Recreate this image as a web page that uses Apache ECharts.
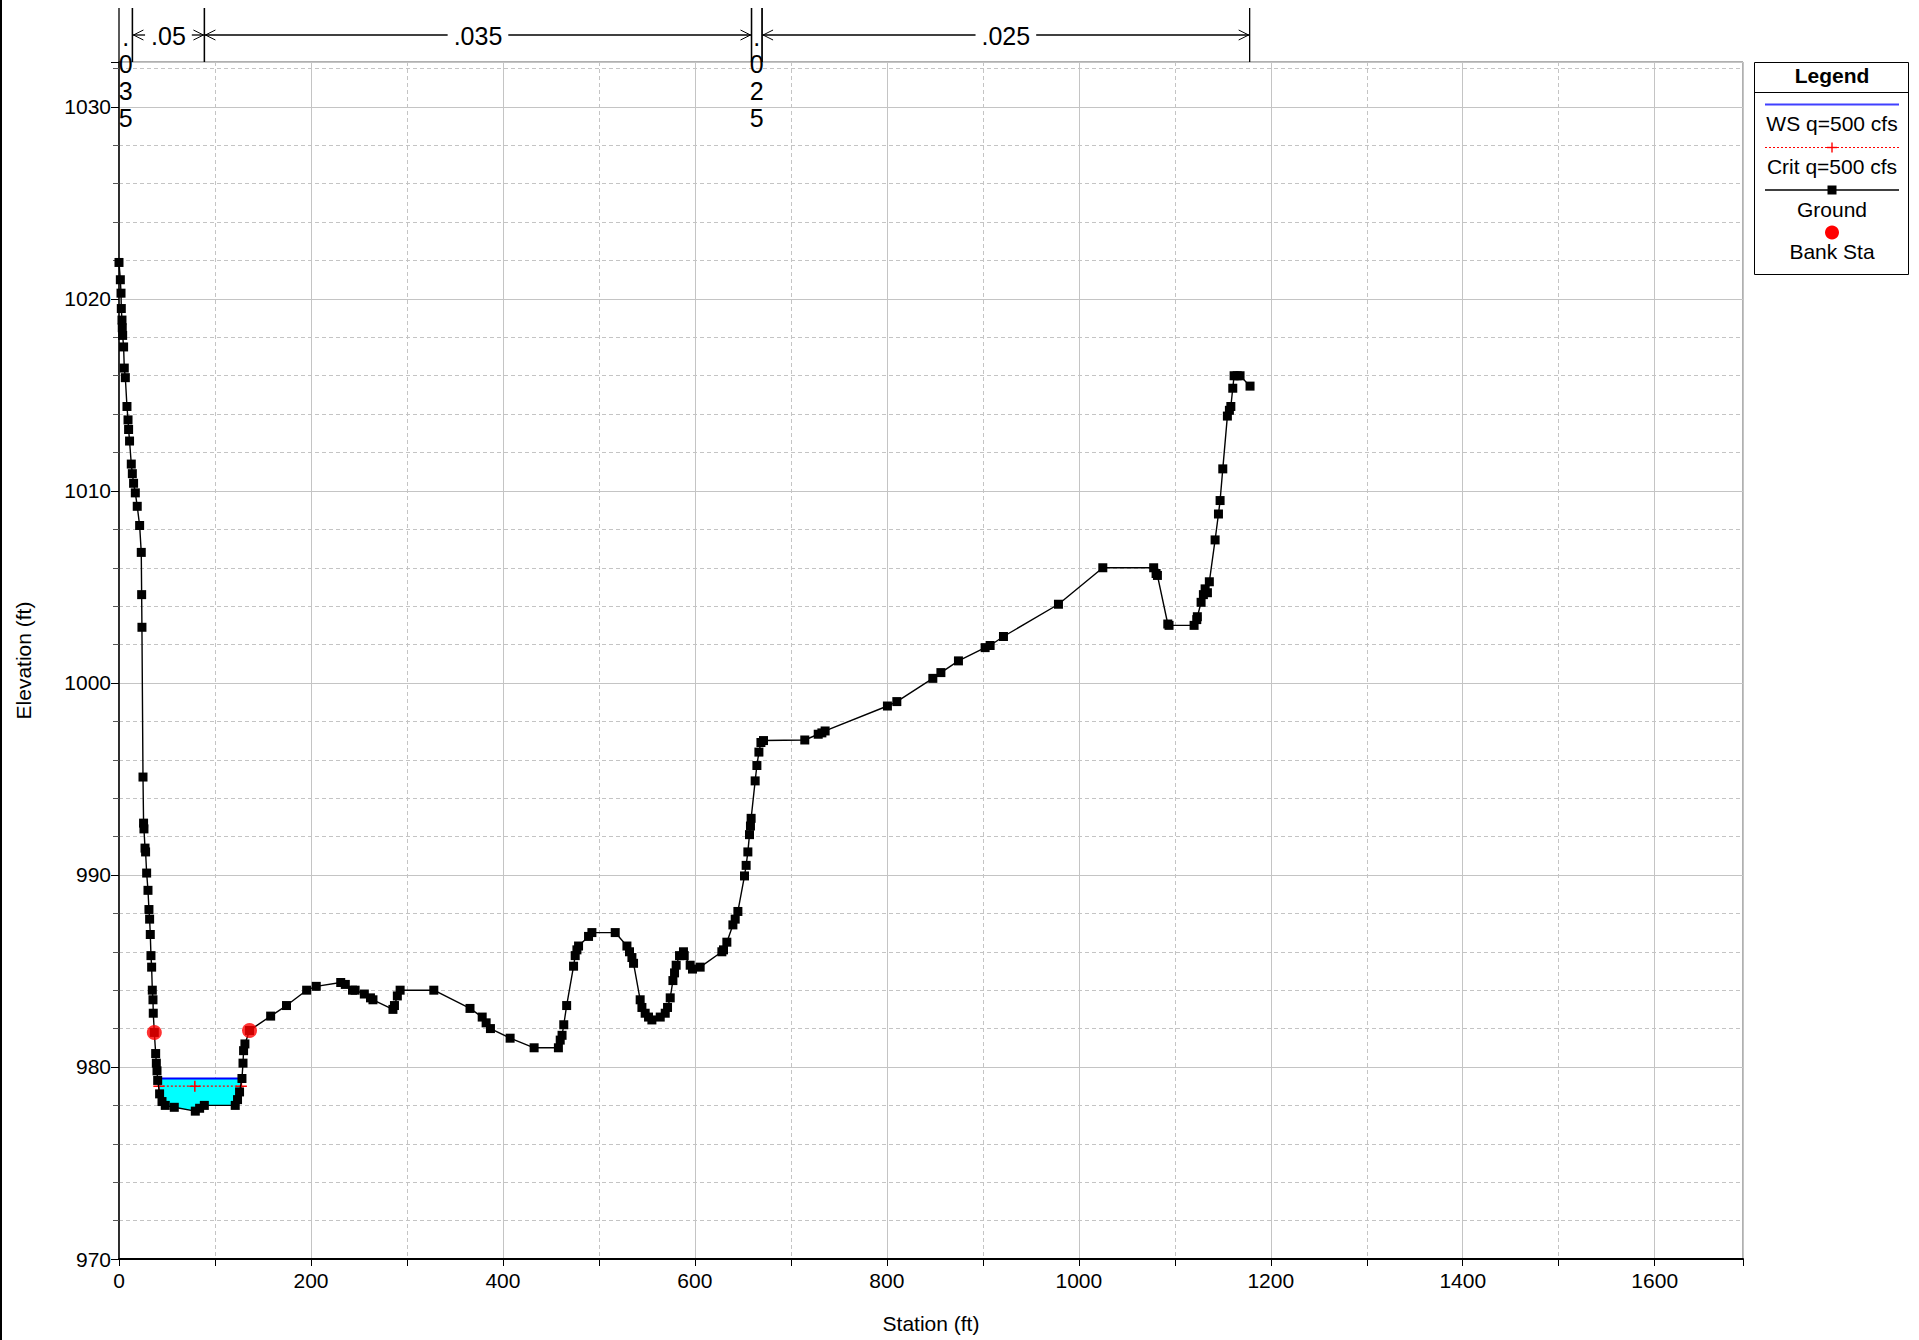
<!DOCTYPE html>
<html>
<head>
<meta charset="utf-8">
<script src="https://cdn.jsdelivr.net/npm/echarts@6/dist/echarts.min.js"></script>
<style>
html, body { margin: 0; padding: 0; background: #fff; }
#ChartDom { width: 1919px; height: 1340px; }
</style>
</head>
<body>
<div id="ChartDom"></div>
<script>
// ground profile, station (ft) / elevation (ft)
const groundSta = [
  0, 1.4, 2.1, 2.4, 3.1, 3.4, 3.8, 4.8, 5.5, 6.6, 8.3, 9.4, 10, 11, 12.8, 13.9, 15.2, 17, 19, 21.5,
  23.2, 23.6, 23.9, 25, 25.6, 26, 27.1, 27.7, 28.8, 30.2, 31.2, 31.9, 32.6, 33.3, 34, 34.7, 35.4, 35.7,
  36.8, 38.2, 38.9, 39.6, 40.3, 42.3, 44.8, 48.2, 57.6, 79.5, 84, 88.9, 121.1, 123.5, 125.6, 128.1,
  129.2, 129.8, 131.2, 136, 158, 174.5, 195.5, 205.5, 231, 235.8, 243.3, 246, 255.6, 262, 264.6,
  285.4, 287, 290, 292.9, 328, 365.7, 378.4, 382.5, 387, 407.5, 432.5, 457.8, 459.7, 461.6, 463.4,
  466.4, 473.6, 475.3, 477.1, 478.8, 489.2, 492.7, 517, 529.2, 531.9, 534.4, 536.1, 543, 544.8,
  548.2, 551.7, 555.2, 563.9, 569.1, 571.5, 574.3, 577.1, 578.8, 580.5, 584, 588.1, 588.9, 595.1,
  597.5, 605.5, 628.1, 629.8, 633.3, 639.6, 642, 644.8, 651.7, 653.4, 655.2, 656.9, 657.9, 658.6,
  662.8, 664.6, 666.7, 668.8, 671.5, 714.5, 728.5, 732.3, 735.7, 800.6, 810.4, 847.9, 856.3, 874.6,
  902.4, 907.6, 921.5, 978.8, 1025, 1078, 1080.5, 1081.9, 1092.7, 1094, 1120.1, 1122.9, 1123.5,
  1127.4, 1129.8, 1131.6, 1134, 1136, 1142, 1145.5, 1147.2, 1150, 1154.8, 1156.9, 1158.4, 1160.4,
  1161.8, 1165, 1168, 1178.4
]
const groundElev = [
  1021.9, 1021.0, 1020.3, 1019.5, 1018.9, 1018.5, 1018.1, 1017.5, 1016.4, 1015.9, 1014.4, 1013.7, 1013.2, 1012.6, 1011.4, 1010.9, 1010.4, 1009.9, 1009.2, 1008.2,
  1006.8, 1004.6, 1002.9, 995.1, 992.7, 992.4, 991.4, 991.2, 990.1, 989.2, 988.2, 987.7, 986.9, 985.8, 985.2, 984.0, 983.5, 982.8,
  981.8, 980.7, 980.2, 979.8, 979.3, 978.6, 978.2, 978.0, 977.9, 977.7, 977.85, 978.0, 978.0, 978.3, 978.7, 979.4,
  980.2, 980.85, 981.2, 981.9, 982.65, 983.2, 984.0, 984.2, 984.4, 984.3, 984.0, 984.0, 983.8, 983.6, 983.5,
  983.0, 983.2, 983.7, 984.0, 984.0, 983.05, 982.6, 982.3, 982.0, 981.5, 981.0, 981.0, 981.4, 981.65, 982.2,
  983.2, 985.25, 985.8, 986.1, 986.3, 986.8, 987.0, 987.0, 986.3, 986.0, 985.7, 985.4, 983.5, 983.1,
  982.8, 982.6, 982.45, 982.6, 982.8, 983.1, 983.6, 984.5, 984.9, 985.3, 985.8, 986.0, 985.8, 985.3,
  985.1, 985.2, 986.0, 986.1, 986.5, 987.4, 987.7, 988.1, 989.95, 990.5, 991.2, 992.1, 992.55, 992.95,
  994.9, 995.7, 996.4, 996.9, 997.0, 997.03, 997.33, 997.4, 997.5, 998.8, 999.03, 1000.24, 1000.54, 1001.15,
  1001.84, 1001.95, 1002.42, 1004.1, 1006.0, 1006.0, 1005.7, 1005.6, 1003.07, 1003.0, 1003.0, 1003.3, 1003.45,
  1004.2, 1004.6, 1004.9, 1004.7, 1005.27, 1007.45, 1008.8, 1009.5, 1011.15, 1013.9, 1014.2, 1014.4, 1015.35,
  1016.0, 1016.0, 1016.0, 1015.46
]
const bankSta = [36.8, 136.0]
const bankElev = [981.8, 981.9]
const wsElev = 979.4
const critSta = [41.5, 79, 127.5]
const critElev = [979.0, 979.0, 979.0]
// Manning's n regions along the top
const nBreaks = [0, 14, 89, 659, 670, 1178]
const nValues = [".035", ".05", ".035", ".025", ".025"]
const xRange = [0, 1692]
const yRange = [970, 1032.34]

const FONT = "Liberation Sans"

// water area below the WS line, between the banks
function waterPolygon() {
  const pts = []
  for (let i = 1; i < groundSta.length; i++) {
    const x0 = groundSta[i - 1], y0 = groundElev[i - 1]
    const x1 = groundSta[i], y1 = groundElev[i]
    if (x1 < bankSta[0] || x0 > bankSta[1]) continue
    const b0 = y0 < wsElev, b1 = y1 < wsElev
    if (b0 !== b1) {
      const t = (wsElev - y0) / (y1 - y0)
      pts.push([x0 + t * (x1 - x0), wsElev])
    }
    if (b1) pts.push([x1, y1])
  }
  return pts
}
const water = waterPolygon()
const wsLine = [water[0], water[water.length - 1]]

function textWidth(s, size) {
  let w = 0
  for (const c of s) w += c === "." ? 0.278 : 0.556
  return w * size
}

const chartDom = document.getElementById("ChartDom")
const myChart = echarts.init(chartDom, null, { renderer: "svg" })

const legendX = 1832
const plus = "path://M4.3,0h1.4v4.3h4.3v1.4h-4.3v4.3h-1.4v-4.3h-4.3v-1.4h4.3z"

let option = {
  animation: false,
  backgroundColor: "#fff",
  textStyle: { fontFamily: FONT },
  grid: {
    left: 119,
    right: 176,
    top: 62,
    bottom: 81,
    show: true,
    borderColor: "#606060",
    borderWidth: 1,
    backgroundColor: "transparent",
  },
  xAxis: {
    type: "value",
    min: xRange[0],
    max: xRange[1],
    interval: 200,
    name: "Station (ft)",
    nameLocation: "middle",
    nameGap: 54,
    nameTextStyle: { color: "#000", fontSize: 21, fontFamily: FONT },
    axisLine: { show: true, onZero: false, lineStyle: { color: "#000", width: 2 } },
    axisTick: { show: true, length: 7, lineStyle: { color: "#000" } },
    minorTick: { show: true, splitNumber: 2, length: 7, lineStyle: { color: "#000" } },
    axisLabel: { color: "#000", fontSize: 21, margin: 11, showMaxLabel: false, fontFamily: FONT, formatter: (v) => String(v) },
    splitLine: { show: true, lineStyle: { color: "#c4c4c4", width: 1 } },
    minorSplitLine: { show: true, lineStyle: { color: "#c4c4c4", type: [4, 3], width: 1 } },
  },
  yAxis: {
    type: "value",
    min: yRange[0],
    max: yRange[1],
    interval: 10,
    name: "Elevation (ft)",
    nameLocation: "middle",
    nameGap: 85,
    nameTextStyle: { color: "#000", fontSize: 21, fontFamily: FONT },
    axisLine: { show: true, onZero: false, lineStyle: { color: "#000", width: 1.5 } },
    axisTick: { show: true, length: 8, lineStyle: { color: "#000" } },
    minorTick: { show: true, splitNumber: 5, length: 6, lineStyle: { color: "#555" } },
    axisLabel: { color: "#000", fontSize: 21, margin: 8, showMaxLabel: false, fontFamily: FONT, formatter: (v) => String(v) },
    splitLine: { show: true, lineStyle: { color: "#c4c4c4", width: 1 } },
    minorSplitLine: { show: true, lineStyle: { color: "#c4c4c4", type: [4, 3], width: 1 } },
  },
  series: [
    {
      name: "water",
      type: "custom",
      silent: true,
      z: 1,
      data: [[water[0][0], wsElev]],
      renderItem: (params, api) => ({
        type: "polygon",
        shape: { points: water.map((p) => api.coord(p)) },
        style: { fill: "#00ffff", stroke: null },
      }),
    },
    {
      name: "WS q=500 cfs",
      type: "line",
      z: 3,
      symbol: "none",
      lineStyle: { color: "#0000ff", width: 2 },
      data: wsLine,
    },
    {
      name: "Crit q=500 cfs",
      type: "line",
      z: 4,
      symbol: plus,
      symbolSize: 11,
      itemStyle: { color: "#ff0000" },
      lineStyle: { color: "#ff0000", width: 1.2, type: [2, 2] },
      data: critSta.map((s, i) => [s, critElev[i]]),
    },
    {
      name: "Ground",
      type: "line",
      z: 5,
      symbol: "rect",
      symbolSize: 9,
      showAllSymbol: true,
      itemStyle: { color: "#000" },
      lineStyle: { color: "#000", width: 1.4 },
      data: groundSta.map((s, i) => [s, groundElev[i]]),
    },
    {
      name: "Bank Sta",
      type: "scatter",
      z: 6,
      symbol: "circle",
      symbolSize: 15,
      itemStyle: { color: "#ff0000" },
      data: bankSta.map((s, i) => [s, bankElev[i]]),
    },
    {
      name: "n values",
      type: "custom",
      silent: true,
      clip: false,
      z: 7,
      data: nValues.map((v, i) => [nBreaks[i], nBreaks[i + 1]]),
      renderItem: (params, api) => {
        const i = params.dataIndex
        const label = nValues[i]
        const x0 = api.coord([api.value(0), yRange[0]])[0]
        const x1 = api.coord([api.value(1), yRange[0]])[0]
        const top = params.coordSys.y
        const ly = 35
        const stroke = { stroke: "#000", lineWidth: 1.3 }
        const kids = [
          { type: "line", shape: { x1: x0, y1: 8, x2: x0, y2: top }, style: stroke },
          { type: "line", shape: { x1: x1, y1: 8, x2: x1, y2: top }, style: stroke },
        ]
        const tw = textWidth(label, 25)
        if (x1 - x0 > tw + 20) {
          const cx = (x0 + x1) / 2
          const gap = tw / 2 + 6
          kids.push(
            { type: "line", shape: { x1: x0, y1: ly, x2: cx - gap, y2: ly }, style: stroke },
            { type: "line", shape: { x1: cx + gap, y1: ly, x2: x1, y2: ly }, style: stroke },
            { type: "polyline", shape: { points: [[x0 + 11, ly - 5], [x0 + 1, ly], [x0 + 11, ly + 5]] }, style: { stroke: "#000", lineWidth: 1, fill: null } },
            { type: "polyline", shape: { points: [[x1 - 11, ly - 5], [x1 - 1, ly], [x1 - 11, ly + 5]] }, style: { stroke: "#000", lineWidth: 1, fill: null } },
            { type: "text", style: { x: cx, y: ly + 1, text: label, fill: "#000", font: "25px " + FONT, align: "center", verticalAlign: "middle" } }
          )
        } else {
          const cx = (x0 + x1) / 2
          label.split("").forEach((c, k) => {
            kids.push({ type: "text", style: { x: cx, y: 37 + k * 27, text: c, fill: "#000", font: "25px " + FONT, align: "center", verticalAlign: "middle" } })
          })
        }
        return { type: "group", children: kids }
      },
    },
  ],
  graphic: [
    { type: "rect", shape: { x: 1754.5, y: 62.5, width: 154, height: 212 }, style: { fill: "#fff", stroke: "#000", lineWidth: 1 } },
    { type: "line", shape: { x1: 1754.5, y1: 92.5, x2: 1908.5, y2: 92.5 }, style: { stroke: "#000", lineWidth: 1 } },
    { type: "text", style: { x: legendX, y: 75, text: "Legend", font: "bold 21px " + FONT, fill: "#000", align: "center", verticalAlign: "middle" } },
    { type: "line", shape: { x1: 1765, y1: 104.5, x2: 1899, y2: 104.5 }, style: { stroke: "#4040ff", lineWidth: 2 } },
    { type: "text", style: { x: legendX, y: 123, text: "WS q=500 cfs", font: "21px " + FONT, fill: "#000", align: "center", verticalAlign: "middle" } },
    { type: "line", shape: { x1: 1765, y1: 147.5, x2: 1899, y2: 147.5 }, style: { stroke: "#ff0000", lineWidth: 1, lineDash: [2, 2] } },
    { type: "rect", shape: { x: legendX - 5, y: 146.8, width: 10, height: 1.4 }, style: { fill: "#ff0000" } },
    { type: "rect", shape: { x: legendX - 0.7, y: 142.5, width: 1.4, height: 10 }, style: { fill: "#ff0000" } },
    { type: "text", style: { x: legendX, y: 166, text: "Crit q=500 cfs", font: "21px " + FONT, fill: "#000", align: "center", verticalAlign: "middle" } },
    { type: "line", shape: { x1: 1765, y1: 190, x2: 1899, y2: 190 }, style: { stroke: "#000", lineWidth: 1.3 } },
    { type: "rect", shape: { x: legendX - 4.5, y: 185.5, width: 9, height: 9 }, style: { fill: "#000" } },
    { type: "text", style: { x: legendX, y: 209, text: "Ground", font: "21px " + FONT, fill: "#000", align: "center", verticalAlign: "middle" } },
    { type: "circle", shape: { cx: legendX, cy: 232.5, r: 7 }, style: { fill: "#ff0000" } },
    { type: "text", style: { x: legendX, y: 251, text: "Bank Sta", font: "21px " + FONT, fill: "#000", align: "center", verticalAlign: "middle" } },
    { type: "line", shape: { x1: 1, y1: 0, x2: 1, y2: 1340 }, style: { stroke: "#000", lineWidth: 2 } },
  ],
}
myChart.setOption(option)

window.addEventListener(
  "resize",
  () => {
    myChart.resize()
  },
  { passive: true }
)
</script>
</body>
</html>
